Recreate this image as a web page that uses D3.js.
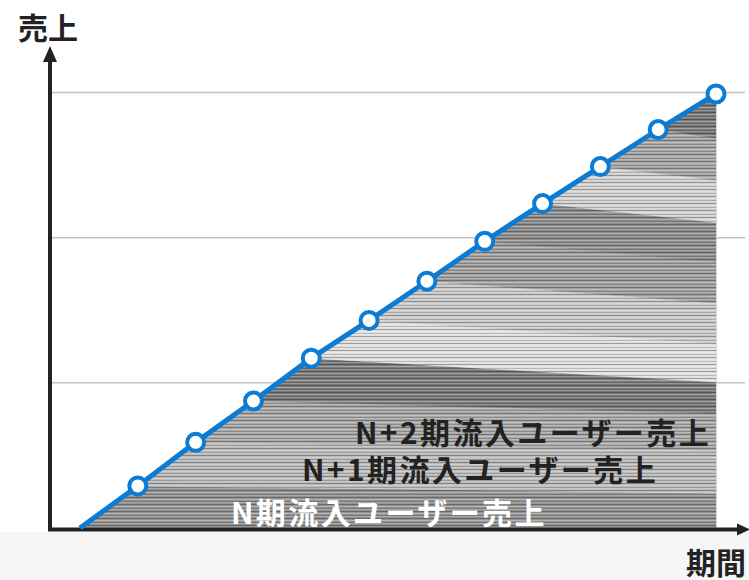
<!DOCTYPE html>
<html>
<head>
<meta charset="utf-8">
<script src="https://cdn.jsdelivr.net/npm/d3@7"></script>
<style>
  html, body { margin: 0; padding: 0; background: #fff; }
  text { font-family: 'Noto Sans CJK JP', 'Noto Sans', sans-serif; }
</style>
</head>
<body>
<div id="chart"></div>
<script>
// cumulative sales at each period (period 0 = start)
const periods = [0, 1, 2, 3, 4, 5, 6, 7, 8, 9, 10, 11]
const sales = [0, 29, 59, 87.5, 117, 143, 170, 197.5, 223.5, 249, 274.5, 299]
// value of each cohort's upper boundary at the last period (cohort 1..10)
const cohortEnd = [24, 53.5, 79, 100.5, 127, 155, 183, 210.5, 239.5, 268.5]
// gray tone of each cohort band, bottom to top
const bandShades = ['#939393', '#bcbcbc', '#a8a8a8', '#7b7b7b', '#e0e0e0', '#cacaca',
  '#a0a0a0', '#8e8e8e', '#d2d2d2', '#a6a6a6', '#7a7a7a']
const gridValues = [100, 200, 300]
const bandLabels = ['N期流入ユーザー売上', 'N+1期流入ユーザー売上', 'N+2期流入ユーザー売上']
const yTitle = '売上'
const xTitle = '期間'

const width = 749
const height = 580

const svg = d3
  .select('#chart')
  .append('svg')
  .attr('width', width)
  .attr('height', height)
  .attr('viewBox', [0, 0, width, height])

const x = d3.scaleLinear().domain([0, 11]).range([80, 716])
const y = d3.scaleLinear().domain([0, 300]).range([528, 92.5])

// light strip under the x axis
svg.append('rect')
  .attr('x', 0).attr('y', 532)
  .attr('width', width).attr('height', height - 532)
  .attr('fill', '#f6f6f6')

// stripe texture
const defs = svg.append('defs')
const pat = defs.append('pattern')
  .attr('id', 'stripes')
  .attr('patternUnits', 'userSpaceOnUse')
  .attr('width', 20).attr('height', 7)
pat.append('rect').attr('x', 0).attr('y', 0).attr('width', 20).attr('height', 1).attr('fill', '#000').attr('opacity', 0.3)
pat.append('rect').attr('x', 0).attr('y', 2).attr('width', 20).attr('height', 1).attr('fill', '#fff').attr('opacity', 0.3)
pat.append('rect').attr('x', 0).attr('y', 4).attr('width', 20).attr('height', 1).attr('fill', '#000').attr('opacity', 0.18)
pat.append('rect').attr('x', 0).attr('y', 5).attr('width', 20).attr('height', 1).attr('fill', '#fff').attr('opacity', 0.2)

// gridlines
svg.selectAll('line.grid')
  .data(gridValues)
  .enter()
  .append('line')
  .attr('class', 'grid')
  .attr('x1', 52).attr('x2', 745)
  .attr('y1', d => y(d)).attr('y2', d => y(d))
  .attr('stroke', '#c4c4c4')
  .attr('stroke-width', 1.5)

// cohort bands: band k runs from marker k-1 / k to the right edge
const last = periods.length - 1
const bands = bandShades.map((shade, i) => {
  const k = i + 1
  const lowEnd = k === 1 ? 0 : cohortEnd[k - 2]
  const upEnd = k === last ? sales[last] : cohortEnd[k - 1]
  return {
    shade,
    pts: [
      [x(periods[k - 1]), y(sales[k - 1])],
      [x(periods[k]), y(sales[k])],
      [x(periods[last]), y(upEnd)],
      [x(periods[last]), y(lowEnd)]
    ]
  }
})

const bandG = svg.append('g')
bandG.selectAll('polygon.band')
  .data(bands)
  .enter()
  .append('polygon')
  .attr('class', 'band')
  .attr('points', d => d.pts.map(p => p.join(',')).join(' '))
  .attr('fill', d => d.shade)
  .attr('stroke', d => d.shade)
  .attr('stroke-width', 0.5)

bandG.selectAll('polygon.tex')
  .data(bands)
  .enter()
  .append('polygon')
  .attr('class', 'tex')
  .attr('points', d => d.pts.map(p => p.join(',')).join(' '))
  .attr('fill', 'url(#stripes)')

// light edge on the right of the area
svg.append('line')
  .attr('x1', x(periods[last]) + 0.5).attr('x2', x(periods[last]) + 0.5)
  .attr('y1', y(sales[last]) + 6).attr('y2', 527)
  .attr('stroke', '#d6d6d6').attr('stroke-width', 1)

// band labels
const labelPos = [[231, 524, '#ffffff'], [302, 481, '#222222'], [355, 444, '#222222']]
svg.selectAll('text.band')
  .data(bandLabels)
  .enter()
  .append('text')
  .attr('class', 'band')
  .attr('x', (d, i) => labelPos[i][0])
  .attr('y', (d, i) => labelPos[i][1])
  .attr('font-size', 30)
  .attr('letter-spacing', 2.4)
  .attr('font-weight', 'bold')
  .attr('fill', (d, i) => labelPos[i][2])
  .text(d => d)

// axes with arrows
const axisColor = '#222'
svg.append('line')
  .attr('x1', 50).attr('x2', 50)
  .attr('y1', 531).attr('y2', 58)
  .attr('stroke', axisColor).attr('stroke-width', 4)
svg.append('path')
  .attr('d', 'M50,46 L57,62 L43,62 Z')
  .attr('fill', axisColor)
svg.append('line')
  .attr('x1', 48).attr('x2', 740)
  .attr('y1', 529.5).attr('y2', 529.5)
  .attr('stroke', axisColor).attr('stroke-width', 4)
svg.append('path')
  .attr('d', 'M750,529.5 L737,523.5 L737,535.5 Z')
  .attr('fill', axisColor)

// sales line and markers
const line = d3.line().x(d => x(d.p)).y(d => y(d.v))
const pts = periods.map((p, i) => ({ p, v: sales[i] }))
svg.append('path')
  .datum(pts)
  .attr('d', line)
  .attr('fill', 'none')
  .attr('stroke', '#0b7bd3')
  .attr('stroke-width', 5)

svg.selectAll('circle')
  .data(pts.slice(1))
  .enter()
  .append('circle')
  .attr('cx', d => x(d.p))
  .attr('cy', d => y(d.v))
  .attr('r', 8.5)
  .attr('fill', '#fff')
  .attr('stroke', '#0b7bd3')
  .attr('stroke-width', 4)

// axis titles
svg.append('text')
  .attr('x', 18).attr('y', 39)
  .attr('font-size', 30)
  .attr('font-weight', 'bold')
  .attr('fill', '#222')
  .text(yTitle)
svg.append('text')
  .attr('x', 746).attr('y', 574)
  .attr('text-anchor', 'end')
  .attr('font-size', 30)
  .attr('font-weight', 'bold')
  .attr('fill', '#222')
  .text(xTitle)
</script>
</body>
</html>
